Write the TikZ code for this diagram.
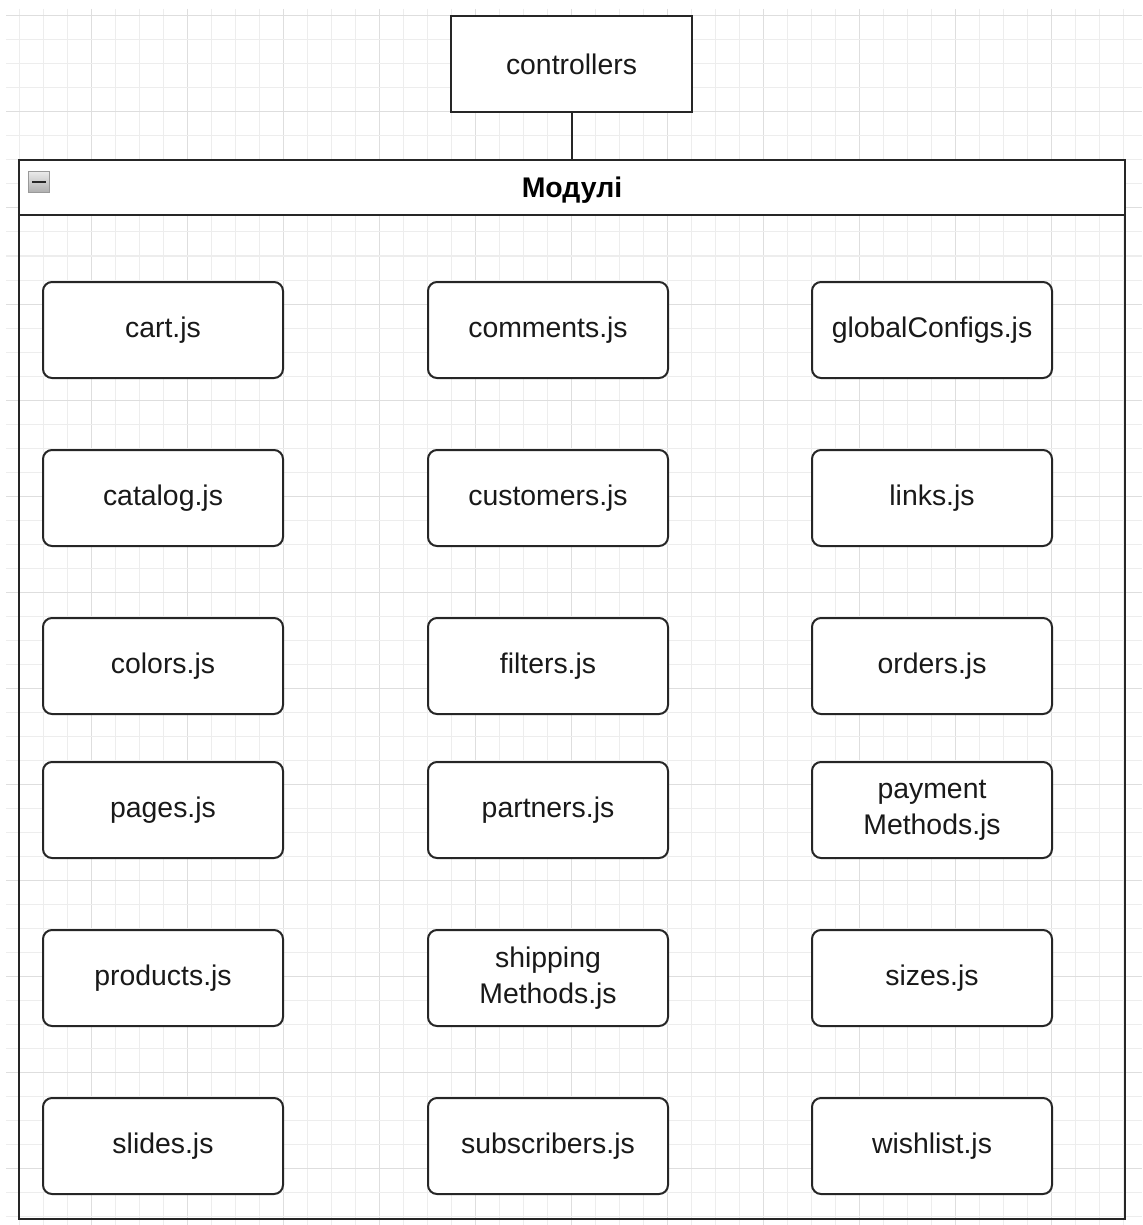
\documentclass[tikz,border=0pt]{standalone}
\usepackage{fontspec}
\setmainfont{Liberation Sans}
\begin{document}
\begin{tikzpicture}[x=0.5pt,y=-0.5pt,
  gridminor/.style={draw=black!7,line width=0.5pt},
  gridmajor/.style={draw=black!13,line width=0.5pt},
  boxtext/.style={font=\fontsize{14.2}{18}\selectfont,text=black!90,align=center},
  module/.style={boxtext,draw=black!85,line width=1pt,fill=white,rounded corners=4.5pt,
    minimum width=120pt,minimum height=48pt,inner sep=0pt},
  plainbox/.style={boxtext,draw=black!85,line width=1pt,fill=white,
    minimum width=120.5pt,minimum height=48pt,inner sep=0pt},
  frame/.style={draw=black!85,line width=1pt,inner sep=0pt},
  link/.style={draw=black!85,line width=1pt}]

% canvas
\useasboundingbox (0,0) rectangle (1142,1225);
\fill[white] (0,0) rectangle (1142,1225);

% background grid
\foreach \k in {0,...,46}{
  \pgfmathtruncatemacro{\m}{mod(\k,4)}
  \ifnum\m=3 \draw[gridmajor] ({19+24*\k},9) -- ({19+24*\k},1225);
  \else \draw[gridminor] ({19+24*\k},9) -- ({19+24*\k},1225); \fi
}
\foreach \k in {0,...,50}{
  \pgfmathtruncatemacro{\m}{mod(\k,4)}
  \ifnum\m=0 \draw[gridmajor] (6,{16+24*\k}) -- (1142,{16+24*\k});
  \else \draw[gridminor] (6,{16+24*\k}) -- (1142,{16+24*\k}); \fi
}

% container with header
\node[frame,minimum width=553pt,minimum height=529.5pt] (modules) at (572,689.5) {};
\node[frame,fill=white,minimum width=553pt,minimum height=27.5pt] (header) at (572,187.5) {};
\node[font=\fontsize{14.2}{18}\selectfont\bfseries,inner sep=0pt] (title)
  at ([yshift=-1.5pt]header.center) {Модулі};

% collapse button
\node[draw=black!40,line width=0.6pt,top color=black!8,bottom color=black!32,
  minimum size=10.5pt,inner sep=0pt] (collapse) at (39,182) {};
\draw[line width=1.3pt,black!85] ([xshift=-3.3pt]collapse.center) -- ([xshift=3.3pt]collapse.center);

% controllers box and its link
\node[plainbox] (controllers) at (571.5,64) {controllers};
\draw[link] (controllers.south) -- (controllers.south |- header.north);

% module files
\begin{scope}[every node/.append style={yshift=-0.5pt}]
\node[module] (cart)        at (163,329)  {cart.js};
\node[module] (comments)    at (548,329)  {comments.js};
\node[module] (global)      at (932,329)  {globalConfigs.js};
\node[module] (catalog)     at (163,497)  {catalog.js};
\node[module] (customers)   at (548,497)  {customers.js};
\node[module] (links)       at (932,497)  {links.js};
\node[module] (colors)      at (163,665)  {colors.js};
\node[module] (filters)     at (548,665)  {filters.js};
\node[module] (orders)      at (932,665)  {orders.js};
\node[module] (pages)       at (163,809)  {pages.js};
\node[module] (partners)    at (548,809)  {partners.js};
\node[module] (payment)     at (932,809)  {payment\\Methods.js};
\node[module] (products)    at (163,977)  {products.js};
\node[module] (shipping)    at (548,977)  {shipping\\Methods.js};
\node[module] (sizes)       at (932,977)  {sizes.js};
\node[module] (slides)      at (163,1145) {slides.js};
\node[module] (subscribers) at (548,1145) {subscribers.js};
\node[module] (wishlist)    at (932,1145) {wishlist.js};
\end{scope}
\end{tikzpicture}
\end{document}
